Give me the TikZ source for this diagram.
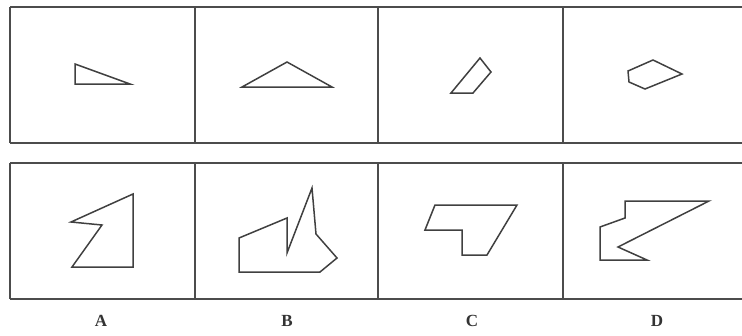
\documentclass[tikz,border=0pt]{standalone}
\usepackage{fontspec}
\setmainfont{Liberation Serif}
\begin{document}
\begin{tikzpicture}[x=1pt,y=-1pt,
  frame/.style={draw=black!70,line width=1.9pt},
  figline/.style={draw=black!75,line width=1.5pt,line join=miter},
  lab/.style={font=\bfseries\fontsize{17}{17}\selectfont,text=black!80,inner sep=0pt,anchor=base}]
\useasboundingbox (0,0) rectangle (742,335);
% frames
\foreach \yt/\yb in {7/143,163/299}{
  \draw[frame] (10,\yt) -- (742,\yt);
  \draw[frame] (10,\yb) -- (742,\yb);
  \foreach \x in {10,195,378,563}{\draw[frame] (\x,\yt) -- (\x,\yb);}
}
% top row
\draw[figline] (75,64) -- (75,84) -- (130,84) -- cycle;
\draw[figline] (242,87) -- (287,62) -- (332,87) -- cycle;
\draw[figline] (451,93) -- (473,93) -- (491,72) -- (480,58) -- cycle;
\draw[figline] (628,71) -- (653,60) -- (682,74) -- (645,89) -- (629,82) -- cycle;
% bottom row
\draw[figline] (71,222) -- (133,194) -- (133,267) -- (72,267) -- (102,225) -- cycle;
\draw[figline] (239,238) -- (287,218) -- (287,253) -- (312,188) -- (316,234) -- (337,258) -- (320,272) -- (239,272) -- cycle;
\draw[figline] (435,205) -- (517,205) -- (487,255) -- (462,255) -- (462,230) -- (425,230) -- cycle;
\draw[figline] (625,201) -- (709,201) -- (618,247) -- (647,260) -- (600,260) -- (600,227) -- (625,218) -- cycle;
% labels
\node[lab] (la) at (101,326) {A};
\node[lab] (lb) at (287,326) {B};
\node[lab] (lc) at (472,326) {C};
\node[lab] (ld) at (657,326) {D};
\end{tikzpicture}
\end{document}
